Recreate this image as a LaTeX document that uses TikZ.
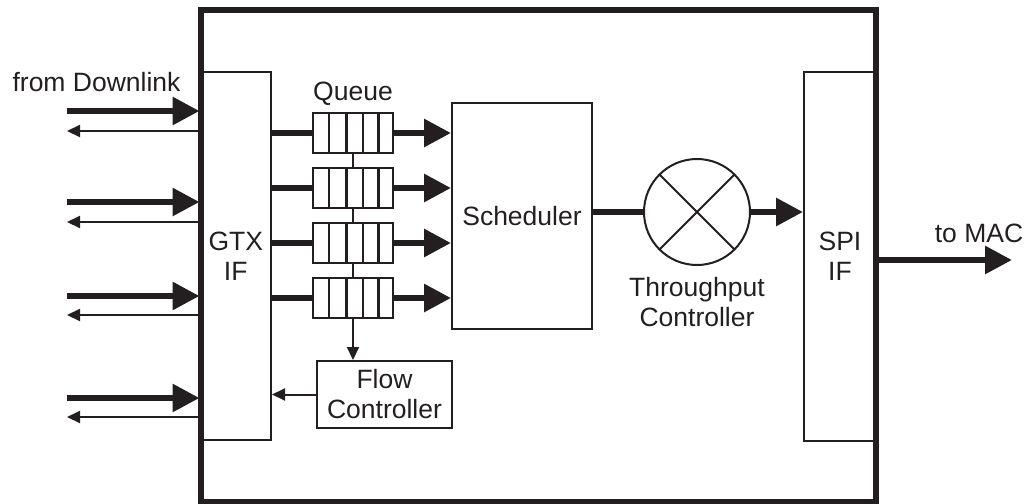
\documentclass[tikz,border=0pt]{standalone}
\usepackage{fontspec}
\setmainfont{Liberation Sans}
\usetikzlibrary{arrows.meta,calc}
\definecolor{ink}{RGB}{35,31,32}
\newcommand\diagfont{\fontsize{13.25}{15}\selectfont}
\begin{document}
\begin{tikzpicture}[x=0.5pt,y=-0.5pt,
  every node/.style={text=ink},
  lbl/.style={font=\diagfont, inner sep=0pt, align=center},
  frame/.style={draw=ink, line width=3pt, inner sep=0pt},
  box/.style={draw=ink, line width=1pt, inner sep=0pt, align=center, font=\diagfont},
  queue/.style={draw=ink, line width=1.25pt, minimum width=40pt, minimum height=20pt, inner sep=0pt},
  thickline/.style={draw=ink, line width=3pt},
  thickarrow/.style={draw=ink, fill=ink, line width=3pt, -{Triangle[length=13.5pt,width=13.5pt]}},
  thinline/.style={draw=ink, line width=1pt},
  thinarrow/.style={draw=ink, fill=ink, line width=1pt, -{Triangle[length=6.5pt,width=6pt]}}]
\useasboundingbox (0,0) rectangle (1030,504);

% interface blocks and the enclosing board
\node[box, minimum width=35.25pt, minimum height=184.25pt] (gtx) at (235.75,255.75) {GTX\\IF};
\node[box, minimum width=36pt, minimum height=184.75pt] (spi) at (840,256.25) {SPI\\IF};
\node[frame, minimum width=337.75pt, minimum height=246pt] (board) at (538.25,255.5) {};

% scheduler, throughput controller, flow controller
\node[box, minimum width=70pt, minimum height=113pt] (sched) at (522,216) {Scheduler};
\node[draw=ink, line width=1pt, circle, minimum size=53pt, inner sep=0pt, outer sep=0pt] (thr) at (697,212) {};
\draw[thinline] (thr.north west) -- (thr.south east);
\draw[thinline] (thr.north east) -- (thr.south west);
\node[lbl] (thrlbl) at (697,302) {Throughput\\Controller};
\node[box, minimum width=67.5pt, minimum height=33.5pt] (flow) at (384.5,394.5) {Flow\\Controller};

% queues
\node[lbl, anchor=base] (qlbl) at (353,100) {Queue};
\foreach \i/\y in {1/133,2/188,3/243,4/298} {
  \node[queue] (q\i) at (353,\y) {};
  \foreach \f in {0.21,0.42,0.62,0.81}
    \draw[ink, line width=1.25pt] ($(q\i.north west)!\f!(q\i.north east)$) -- ($(q\i.south west)!\f!(q\i.south east)$);
  \draw[thickline] (q\i.west -| gtx.east) -- (q\i.west);
  \draw[thickarrow] (q\i.east) -- (q\i.east -| sched.west);
}
\draw[thinline] (q1.south) -- (q2.north);
\draw[thinline] (q2.south) -- (q3.north);
\draw[thinline] (q3.south) -- (q4.north);
\draw[thinarrow] (q4.south) -- (q4.south |- flow.north);
\draw[thinarrow] (flow.west) -- (flow.west -| gtx.east);

% scheduler -> throughput controller -> SPI
\draw[thickline] (sched.east |- thr.west) -- (thr.west);
\draw[thickarrow] (thr.east) -- (thr.east -| spi.west);

% downlink ports
\node[lbl, anchor=base] (dl) at (96.5,91) {from Downlink};
\foreach \y/\z in {111/131,202/222,296/315,398/417} {
  \coordinate (in\y) at (67,\y);
  \coordinate (out\z) at (67,\z);
  \draw[thickarrow] (in\y) -- (in\y -| gtx.west);
  \draw[thinarrow] (out\z -| gtx.west) -- (out\z);
}

% MAC output
\coordinate (mac) at (1012,260);
\draw[thickarrow] (board.east |- mac) -- (mac);
\node[lbl, anchor=base] (maclbl) at (979,242) {to MAC};
\end{tikzpicture}
\end{document}
